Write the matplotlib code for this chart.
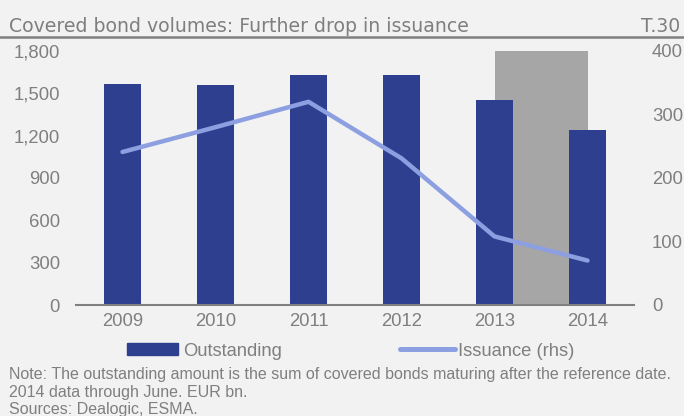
import matplotlib
matplotlib.use("Agg")
import matplotlib.pyplot as plt
from matplotlib.lines import Line2D
from matplotlib.patches import Patch
import numpy as np

years = ["2009", "2010", "2011", "2012", "2013", "2014"]
outstanding = [1566, 1557, 1628, 1628, 1450, 1239]
issuance = [241, 280, 320, 231, 108, 70]
left_ticks = [0, 300, 600, 900, 1200, 1500, 1800]
right_ticks = [0, 100, 200, 300, 400]

BG = "#f2f2f2"
BAR = "#2e3f8f"
LINE = "#8c9fe0"
SHADE = "#a6a6a6"
TXT = "#7f7f7f"

plt.rcParams['font.family'] = ['Liberation Sans', 'DejaVu Sans']

fig = plt.figure(figsize=(6.84, 4.16), dpi=100, facecolor=BG)
ax = fig.add_axes([76 / 684, 1 - 305 / 416, (634 - 76) / 684, (305 - 51) / 416])
ax.set_facecolor(BG)
x = np.arange(len(years))

ax.axvspan(4, 5, color=SHADE, zorder=0, lw=0)
ax.bar(x, outstanding, width=0.4, color=BAR, zorder=2)
ax.set_xlim(-0.5, len(years) - 0.5)
ax.set_ylim(0, 1800)
ax.set_yticks(left_ticks)
ax.set_yticklabels([f"{v:,}" for v in left_ticks])
ax.set_xticks(x)
ax.set_xticklabels(years)
for s in ["top", "right", "left"]:
    ax.spines[s].set_visible(False)
ax.spines["bottom"].set_color("#808080")
ax.spines["bottom"].set_linewidth(1.5)
ax.tick_params(axis="both", length=0, labelsize=13.3, colors=TXT)
ax.tick_params(axis="y", pad=11.5)
ax.tick_params(axis="x", pad=6)

ax2 = ax.twinx()
ax2.plot(x, issuance, color=LINE, lw=3.2, solid_capstyle="round", zorder=3)
ax2.set_ylim(0, 400)
ax2.set_yticks(right_ticks)
for s in ax2.spines.values():
    s.set_visible(False)
ax2.tick_params(axis="y", length=0, labelsize=13.3, colors=TXT, pad=13)

fig.text(9 / 684, 1 - 31.7 / 416, "Covered bond volumes: Further drop in issuance",
         fontsize=13.6, color=TXT, va="baseline", ha="left", family="DejaVu Sans")
fig.text(680 / 684, 1 - 31.7 / 416, "T.30", fontsize=13.6, color=TXT,
         va="baseline", ha="right", family="DejaVu Sans")
fig.add_artist(Line2D([0, 1], [1 - 36.7 / 416] * 2, color="#808080", lw=1.8,
                      transform=fig.transFigure))

leg1 = fig.legend([Patch(color=BAR)], ["Outstanding"], loc="center left",
                  bbox_to_anchor=(127 / 684, 1 - 351 / 416), frameon=False, fontsize=13.2,
                  handlelength=2.8, handleheight=0.55, handletextpad=0.25,
                  borderpad=0, borderaxespad=0)
leg2 = fig.legend([Line2D([0], [0], color=LINE, lw=3.6, solid_capstyle="round")],
                  ["Issuance (rhs)"], loc="center left",
                  bbox_to_anchor=(400 / 684, 1 - 351 / 416), frameon=False, fontsize=13.2,
                  handlelength=3.0, handletextpad=0.15,
                  borderpad=0, borderaxespad=0)
for leg in (leg1, leg2):
    for t in leg.get_texts():
        t.set_color(TXT)

notes = ["Note: The outstanding amount is the sum of covered bonds maturing after the reference date.",
         "2014 data through June. EUR bn.",
         "Sources: Dealogic, ESMA."]
baselines = [379, 397, 414]
for n, b in zip(notes, baselines):
    fig.text(9 / 684, 1 - b / 416, n, fontsize=11.5, color=TXT, va="baseline", ha="left")

fig.savefig("out.png", dpi=100, facecolor=BG)
